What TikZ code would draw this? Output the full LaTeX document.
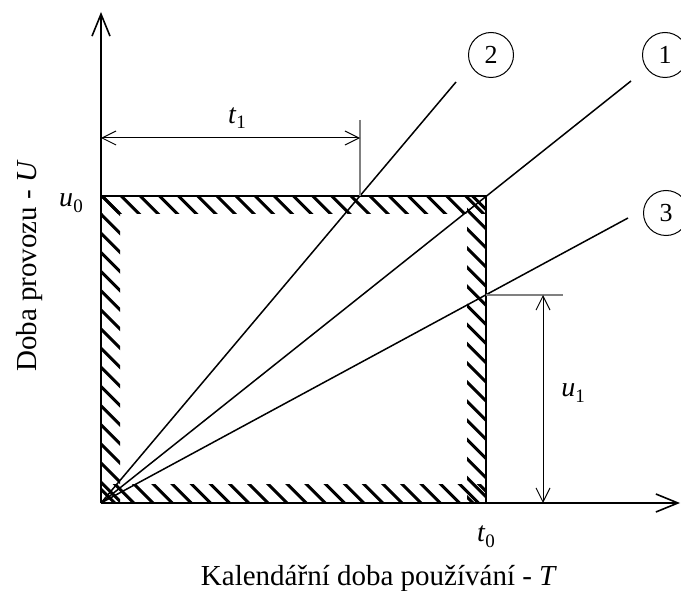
\documentclass[tikz,border=0pt]{standalone}
\usepackage{fontspec}
\setmainfont{Liberation Serif}
\usetikzlibrary{arrows.meta}
\newcommand\sublab[2]{\textit{#1}\raisebox{-0.2em}{\fontsize{19}{20}\selectfont #2}}
\begin{document}
\begin{tikzpicture}[x=1pt,y=-1pt,
  axis/.style={line width=2pt,-{Straight Barb[length=22pt,width=18pt,line width=1.6pt]}},
  frame/.style={line width=2pt},
  ray/.style={line width=1.5pt},
  hatch/.style={line width=3pt},
  dimline/.style={line width=1pt,{Straight Barb[length=14pt,width=14pt]}-{Straight Barb[length=14pt,width=14pt]}},
  extline/.style={line width=1.3pt,gray},
  lbl/.style={inner sep=0pt,font=\fontsize{28}{32}\selectfont},
  title/.style={inner sep=0pt,font=\fontsize{29}{34}\selectfont},
  num/.style={circle,draw,line width=1pt,minimum size=45pt,inner sep=0pt,font=\fontsize{26}{30}\selectfont}]
\useasboundingbox (0,0) rectangle (681,591);
% key points
\coordinate (O) at (101,503);
\coordinate (TL) at (101,196);
\coordinate (TR) at (486,196);
\coordinate (BR) at (486,503);
\coordinate (ytip) at (101,12);
\coordinate (xtip) at (680,503);
% hatching (lines y - x = c)
\begin{scope}
\clip (101,196) rectangle (486,214);
\foreach \k in {-22,...,2} \draw[hatch] (60,60+94+19.15*\k) -- (540,540+94+19.15*\k);
\end{scope}
\begin{scope}
\clip (101,484) rectangle (486,503);
\foreach \k in {-22,...,2} \draw[hatch] (60,60+350+19.15*\k) -- (540,540+350+19.15*\k);
\end{scope}
\begin{scope}
\clip (101,196) rectangle (120,503);
\foreach \k in {-2,...,20} \draw[hatch] (60,60+94+19.15*\k) -- (540,540+94+19.15*\k);
\end{scope}
\begin{scope}
\clip (467,196) rectangle (486,503);
\foreach \k in {-6,...,20} \draw[hatch] (60,60-219+19.15*\k) -- (540,540-219+19.15*\k);
\end{scope}
% frame
\draw[frame] (TL) -- (TR) -- (BR);
% axes
\draw[axis] (O) -- (ytip);
\draw[axis] (O) -- (xtip);
% rays
\coordinate (e1) at (631,81);
\coordinate (e2) at (456,82);
\coordinate (e3) at (628,218);
\draw[ray] (O) -- (e1);
\draw[ray] (O) -- (e2);
\draw[ray] (O) -- (e3);
\node[num] (c1) at (665,55) {1};
\node[num] (c2) at (491,55) {2};
\node[num] (c3) at (666,213) {3};
% dimension t1
\coordinate (t1a) at (101,138);
\coordinate (t1b) at (360,138);
\coordinate (t1top) at (360,120);
\coordinate (t1bot) at (360,196);
\draw[extline] (t1top) -- (t1bot);
\draw[dimline] (t1a) -- (t1b);
\node[lbl] (t1) at (237,118) {\sublab{t}{1}};
% dimension u1
\coordinate (u1a) at (543,295);
\coordinate (u1b) at (543,503);
\coordinate (u1l) at (486,295);
\coordinate (u1r) at (563,295);
\draw[extline] (u1l) -- (u1r);
\draw[dimline] (u1a) -- (u1b);
\node[lbl] (u1) at (573,393) {\sublab{u}{1}};
% labels
\node[lbl] (u0) at (71,203) {\sublab{u}{0}};
\node[lbl] (t0) at (486,537) {\sublab{t}{0}};
\node[title,rotate=90,anchor=base] (ylab) at (36,266) {Doba provozu - \textit{U}};
\node[title,anchor=base] (xlab) at (379,585) {Kalendářní doba používání - \textit{T}};
\end{tikzpicture}
\end{document}
